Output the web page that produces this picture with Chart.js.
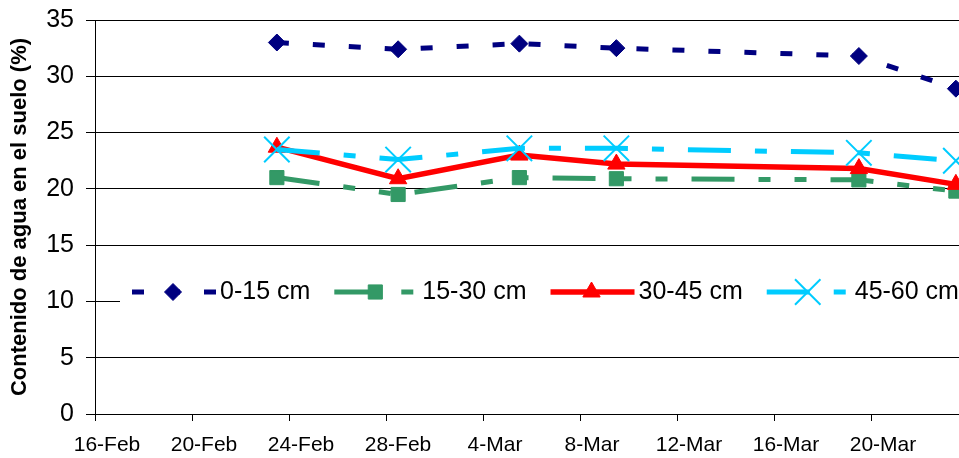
<!DOCTYPE html>
<html>
<head>
<meta charset="utf-8">
<script src="https://cdn.jsdelivr.net/npm/chart.js@4.4.1/dist/chart.umd.min.js"></script>
<style>
  html, body { margin: 0; padding: 0; background: #fff; overflow: hidden; }
  #wrap { width: 980px; height: 458px; }
</style>
</head>
<body>
<div id="wrap"><canvas id="c" width="980" height="458"></canvas></div>
<script>
// Sampling dates (axis starts on 16-Feb)
const axisStart = '16-Feb';
const sampleDates = ['23-Feb', '28-Feb', '5-Mar', '9-Mar', '19-Mar', '23-Mar'];

// Soil water content (%) per depth
const depth0_15  = [33.0, 32.4, 32.9, 32.5, 31.8, 28.9];
const depth15_30 = [21.0, 19.5, 21.0, 20.9, 20.8, 19.8];
const depth30_45 = [23.7, 20.9, 23.0, 22.2, 21.8, 20.4];
const depth45_60 = [23.5, 22.6, 23.6, 23.6, 23.2, 22.5];

const seriesNames = ['0-15 cm', '15-30 cm', '30-45 cm', '45-60 cm'];

// Date axis labels, one every four days
const tickLabels = ['16-Feb', '20-Feb', '24-Feb', '28-Feb', '4-Mar', '8-Mar', '12-Mar', '16-Mar', '20-Mar'];

const MONTHS = {Jan: 0, Feb: 1, Mar: 2, Apr: 3};
function toDay(label) {
  const [d, m] = label.split('-');
  return Date.UTC(2007, MONTHS[m], +d) / 86400000;
}
// Each date sits in the middle of its one-day slot
function dayPos(label) { return toDay(label) - toDay(axisStart) + 0.5; }
function points(values) { return values.map((v, i) => ({x: dayPos(sampleDates[i]), y: v})); }

const FONT = "'Liberation Sans', Arial, Helvetica, sans-serif";
Chart.defaults.font.family = FONT;
Chart.defaults.color = '#000';

const datasets = [
  {
    label: seriesNames[0], data: points(depth0_15), order: 3,
    borderColor: '#000080', borderWidth: 5, borderDash: [12, 24],
    pointStyle: 'rectRot', pointRadius: 8.5,
    pointBackgroundColor: '#000080', pointBorderColor: '#000080', pointBorderWidth: 1
  },
  {
    label: seriesNames[1], data: points(depth15_30), order: 2,
    borderColor: '#339966', borderWidth: 5, borderDash: [43, 24, 12, 24, 12, 24],
    pointStyle: 'rect', pointRadius: 10,
    pointBackgroundColor: '#339966', pointBorderColor: '#339966', pointBorderWidth: 1
  },
  {
    label: seriesNames[2], data: points(depth30_45), order: 1,
    borderColor: '#FF0000', borderWidth: 5.5, borderDash: [],
    pointStyle: 'triangle', pointRadius: 10,
    pointBackgroundColor: '#FF0000', pointBorderColor: '#FF0000', pointBorderWidth: 1
  },
  {
    label: seriesNames[3], data: points(depth45_60), order: 0,
    borderColor: '#00CCFF', borderWidth: 5, borderDash: [43, 24, 12, 24],
    pointStyle: 'crossRot', pointRadius: 18,
    pointBackgroundColor: '#00CCFF', pointBorderColor: '#00CCFF', pointBorderWidth: 2
  }
];

// Legend row laid over the plot, each key is a short line sample with its marker
const keyRow = {
  id: 'keyRow',
  afterDraw(chart) {
    const ctx = chart.ctx;
    const y = 292;
    ctx.save();
    ctx.fillStyle = '#fff';
    ctx.fillRect(120, 266, chart.width - 120, 52);
    ctx.font = '25px ' + FONT;
    ctx.textBaseline = 'middle';
    ctx.textAlign = 'left';
    let x = 132;
    chart.data.datasets.forEach(ds => {
      ctx.save();
      ctx.strokeStyle = ds.borderColor;
      ctx.lineWidth = ds.borderWidth;
      ctx.lineCap = 'butt';
      ctx.setLineDash(ds.borderDash || []);
      ctx.beginPath();
      ctx.moveTo(x, y);
      ctx.lineTo(x + 84, y);
      ctx.stroke();
      ctx.restore();

      ctx.save();
      ctx.fillStyle = ds.pointBackgroundColor;
      ctx.strokeStyle = ds.pointBorderColor;
      ctx.lineWidth = ds.pointBorderWidth;
      ctx.setLineDash([]);
      Chart.helpers.drawPoint(ctx, {
        pointStyle: ds.pointStyle, radius: ds.pointRadius,
        borderWidth: ds.pointBorderWidth, rotation: 0
      }, x + 41, y);
      ctx.restore();

      ctx.fillStyle = '#000';
      ctx.fillText(ds.label, x + 88, y);
      x += 88 + ctx.measureText(ds.label).width + 24;
    });
    ctx.restore();
  }
};

new Chart(document.getElementById('c'), {
  type: 'line',
  data: { datasets },
  options: {
    responsive: false,
    animation: false,
    events: [],
    layout: { autoPadding: false, padding: { top: 20, right: 12, bottom: 0, left: 0 } },
    elements: { line: { tension: 0, borderCapStyle: 'butt' } },
    plugins: { legend: { display: false }, tooltip: { enabled: false } },
    scales: {
      x: {
        type: 'linear', min: 0, max: 36,
        afterFit(scale) {
          scale.height = 44;
          scale.paddingLeft = 0;
          scale.paddingRight = 0;
        },
        border: { color: '#000', width: 1 },
        grid: { drawOnChartArea: false, drawTicks: true, tickLength: 7, tickColor: '#000' },
        ticks: {
          stepSize: 4, autoSkip: false, maxRotation: 0, minRotation: 0,
          padding: 12, labelOffset: 12,
          font: { size: 21 }, color: '#000',
          callback: (v) => tickLabels[v / 4] ?? ''
        }
      },
      y: {
        min: 0, max: 35,
        afterFit(scale) {
          scale.width = 95;
          scale.paddingTop = 0;
          scale.paddingBottom = 0;
        },
        border: { color: '#000', width: 1 },
        grid: { color: '#000', lineWidth: 1, tickLength: 9, tickColor: '#000' },
        ticks: { stepSize: 5, padding: 12, font: { size: 25 }, color: '#000' },
        title: {
          display: true,
          text: 'Contenido de agua en el suelo (%)',
          font: { size: 22, weight: 'bold' },
          color: '#000',
          padding: { top: 7, bottom: 0 }
        }
      }
    }
  },
  plugins: [keyRow]
});
</script>
</body>
</html>
